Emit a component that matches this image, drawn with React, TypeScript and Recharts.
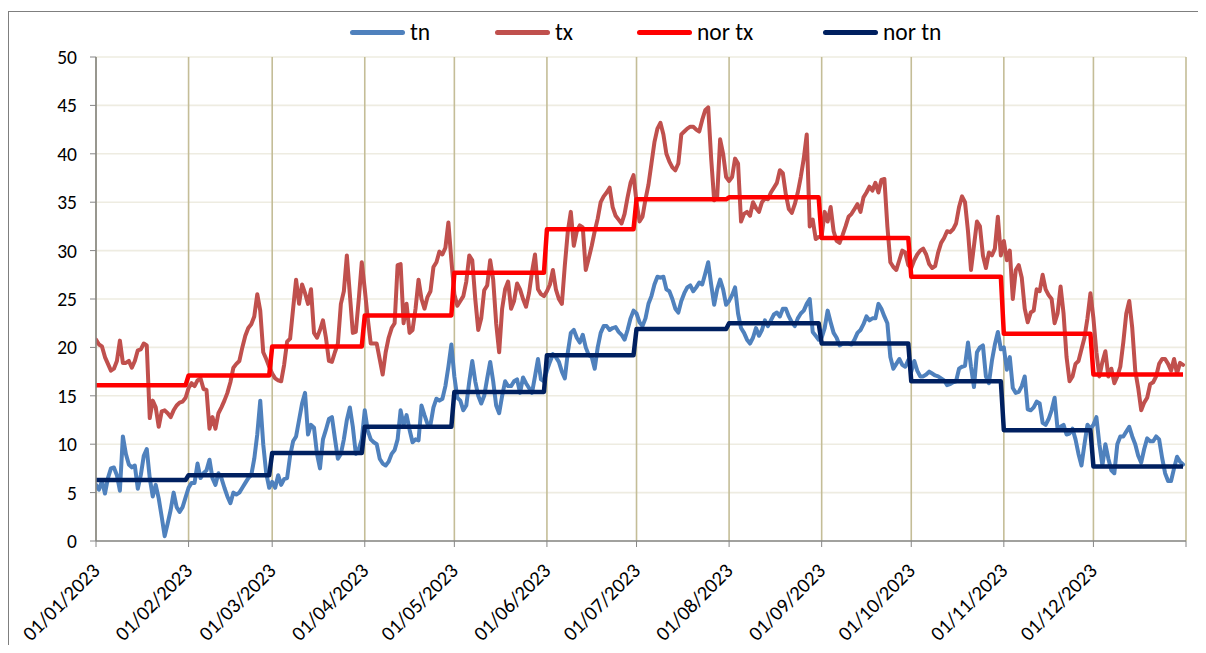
import React from 'react';
import { LineChart, Line, XAxis, YAxis, CartesianGrid, Legend } from 'recharts';

// Month tick labels (first day of each month)
const monthLabels = [
  '01/01/2023', '01/02/2023', '01/03/2023', '01/04/2023', '01/05/2023', '01/06/2023',
  '01/07/2023', '01/08/2023', '01/09/2023', '01/10/2023', '01/11/2023', '01/12/2023',
];

// Monthly normals
const norTxMonthly = [16.1, 17.1, 20.1, 23.3, 27.7, 32.2, 35.3, 35.5, 31.3, 27.3, 21.4, 17.2];
const norTnMonthly = [6.3, 6.8, 9.1, 11.8, 15.4, 19.2, 21.9, 22.5, 20.4, 16.5, 11.45, 7.7];

// Daily maximum temperature (tx), one array per month
const txJan = [20.8, 20.3, 20.1, 19.0, 18.3, 17.6, 17.8, 18.6, 20.7, 18.4, 18.4, 18.6, 17.9, 18.6, 19.7, 19.8, 20.4, 20.2, 12.7, 14.5, 13.8, 11.8, 13.4, 13.5, 13.2, 12.8, 13.5, 14.0, 14.3, 14.4, 14.8];
const txFeb = [15.8, 16.3, 16.0, 16.6, 16.8, 15.7, 15.6, 11.6, 12.8, 11.6, 13.2, 13.8, 14.5, 15.3, 16.4, 17.9, 18.3, 18.6, 20.0, 21.2, 22.0, 22.4, 23.2, 25.5, 23.8, 19.5, 18.8, 18.0];
const txMar = [17.3, 16.8, 16.6, 16.5, 18.2, 20.6, 20.9, 24.0, 27.0, 24.5, 26.5, 25.6, 24.5, 26.0, 21.5, 21.0, 21.8, 22.8, 21.0, 18.6, 18.5, 19.5, 20.4, 24.5, 25.8, 29.5, 25.5, 21.5, 21.6, 25.0, 28.8];
const txApr = [26.0, 23.0, 20.4, 20.4, 20.4, 18.8, 17.2, 19.5, 21.0, 22.0, 22.5, 28.5, 28.6, 22.5, 24.5, 21.5, 21.8, 24.0, 27.0, 25.0, 24.0, 25.2, 25.8, 28.3, 28.8, 29.9, 29.6, 30.3, 32.9, 29.0];
const txMay = [25.5, 24.3, 24.8, 25.3, 26.8, 29.5, 29.0, 25.0, 21.8, 23.0, 25.9, 26.4, 29.0, 27.0, 22.5, 19.5, 24.0, 26.0, 26.8, 24.0, 24.8, 26.6, 26.0, 25.0, 24.2, 25.6, 27.8, 29.6, 26.0, 25.5, 25.3];
const txJun = [25.8, 26.5, 28.0, 26.0, 25.0, 24.5, 28.5, 32.0, 34.0, 30.5, 32.0, 32.6, 32.4, 28.0, 29.2, 30.5, 32.0, 33.3, 35.0, 35.6, 36.0, 36.5, 34.5, 33.6, 33.2, 32.8, 33.8, 35.5, 37.0, 37.8];
const txJul = [35.0, 33.0, 33.5, 35.3, 36.8, 39.0, 41.2, 42.6, 43.2, 42.0, 40.0, 39.2, 38.6, 38.3, 39.0, 42.0, 42.3, 42.6, 42.8, 42.8, 42.5, 42.3, 43.5, 44.5, 44.8, 39.5, 35.2, 35.5, 41.5, 40.0, 37.6];
const txAug = [37.2, 37.6, 39.5, 39.0, 33.0, 33.8, 34.0, 33.6, 35.0, 34.4, 34.0, 35.0, 35.4, 35.3, 36.0, 36.5, 37.0, 38.3, 38.0, 35.8, 34.3, 33.9, 34.8, 36.0, 37.6, 39.5, 42.0, 32.5, 33.2, 31.2, 31.4];
const txSep = [31.5, 34.0, 33.0, 34.5, 32.0, 31.0, 30.8, 31.6, 32.5, 33.5, 33.8, 34.3, 34.8, 34.0, 35.5, 36.0, 36.6, 36.2, 37.0, 36.0, 37.3, 37.4, 32.5, 28.8, 28.3, 28.0, 29.0, 30.0, 29.8, 28.5];
const txOct = [28.2, 29.0, 29.6, 30.0, 30.2, 29.6, 28.6, 28.2, 28.4, 29.8, 30.8, 31.3, 32.0, 31.9, 32.2, 32.8, 34.5, 35.6, 35.0, 32.0, 28.0, 30.5, 33.0, 32.5, 29.5, 28.2, 29.8, 29.5, 30.2, 33.5, 29.5];
const txNov = [31.0, 29.0, 30.0, 25.0, 28.0, 28.5, 27.2, 24.0, 22.6, 23.6, 23.8, 26.0, 25.8, 27.5, 26.0, 25.4, 25.0, 22.5, 23.5, 26.3, 23.5, 19.0, 16.5, 17.0, 18.3, 18.6, 19.8, 21.0, 23.0, 25.6];
const txDec = [23.0, 19.5, 17.0, 18.5, 19.6, 17.0, 17.8, 16.3, 17.0, 18.0, 20.5, 23.5, 24.8, 22.0, 17.6, 15.8, 13.5, 14.3, 14.8, 16.2, 16.4, 17.0, 18.3, 18.8, 18.8, 18.3, 17.6, 18.8, 17.3, 18.4, 18.2];

// Daily minimum temperature (tn), one array per month
const tnJan = [5.8, 5.3, 6.2, 4.9, 6.5, 7.5, 7.6, 6.8, 5.2, 10.8, 9.0, 7.9, 7.6, 7.8, 5.4, 6.8, 8.8, 9.5, 6.5, 4.6, 5.8, 4.4, 2.5, 0.5, 1.8, 3.2, 5.0, 3.5, 3.0, 3.5, 4.5];
const tnFeb = [5.5, 6.0, 6.0, 8.0, 6.5, 7.0, 7.3, 8.4, 6.5, 5.8, 7.0, 6.5, 5.5, 4.6, 3.9, 5.0, 4.8, 5.0, 5.5, 6.0, 6.5, 6.8, 8.5, 11.0, 14.5, 10.0, 7.0, 5.5];
const tnMar = [6.1, 5.5, 6.8, 5.8, 6.4, 6.5, 8.8, 10.3, 10.8, 12.5, 14.2, 15.3, 11.0, 12.0, 11.7, 9.0, 7.5, 10.5, 11.5, 12.6, 12.8, 10.6, 8.5, 9.0, 10.5, 12.5, 13.8, 11.8, 9.0, 9.5, 10.5];
const tnApr = [13.5, 11.4, 10.5, 10.2, 10.0, 8.5, 8.0, 7.8, 8.2, 9.0, 9.4, 10.5, 13.5, 12.0, 13.0, 11.5, 10.2, 10.5, 10.4, 14.0, 13.0, 12.1, 12.0, 13.8, 14.7, 14.5, 14.7, 16.0, 18.0, 20.3];
const tnMay = [17.0, 14.8, 14.5, 13.5, 14.0, 16.5, 18.6, 16.5, 15.0, 14.2, 15.0, 16.8, 18.5, 16.5, 14.0, 13.2, 15.0, 16.5, 16.0, 16.0, 16.5, 16.7, 15.3, 16.9, 16.3, 15.8, 15.3, 17.0, 18.8, 16.7, 16.5];
const tnJun = [17.6, 18.5, 19.3, 19.0, 18.5, 17.5, 16.8, 19.5, 21.5, 21.8, 21.0, 20.5, 21.3, 20.0, 19.2, 19.0, 17.8, 20.0, 21.5, 22.2, 22.2, 21.8, 22.0, 22.1, 21.6, 21.3, 20.8, 21.8, 23.0, 23.8];
const tnJul = [23.5, 22.6, 22.2, 23.0, 24.5, 25.3, 26.5, 27.3, 27.2, 27.3, 26.0, 25.8, 25.0, 24.0, 23.6, 24.8, 25.6, 26.2, 26.4, 25.8, 26.2, 26.7, 26.5, 27.6, 28.8, 26.5, 24.4, 26.0, 27.0, 26.0, 24.4];
const tnAug = [24.8, 25.4, 26.2, 23.5, 22.0, 21.5, 20.8, 20.4, 21.0, 22.0, 21.2, 21.8, 22.8, 22.2, 22.8, 23.4, 23.6, 23.2, 24.0, 24.0, 23.2, 22.6, 22.2, 23.0, 23.5, 23.8, 24.5, 25.0, 21.6, 21.2, 20.8];
const tnSep = [21.0, 22.0, 23.8, 22.6, 21.5, 21.0, 20.2, 20.4, 20.4, 20.4, 20.3, 20.8, 21.5, 21.8, 22.4, 23.2, 22.8, 23.0, 23.0, 24.5, 24.0, 23.2, 22.5, 19.0, 17.8, 18.3, 18.8, 18.2, 18.0, 18.7];
const tnOct = [17.5, 18.6, 17.6, 17.0, 17.0, 17.2, 17.5, 17.3, 17.1, 17.0, 16.8, 16.6, 16.1, 16.2, 16.4, 16.5, 17.8, 18.0, 18.1, 20.5, 18.0, 15.9, 19.5, 20.0, 20.2, 17.0, 16.3, 18.6, 20.3, 21.6, 19.8];
const tnNov = [20.0, 17.7, 19.0, 15.8, 15.3, 15.4, 16.0, 17.0, 13.6, 13.5, 13.8, 14.4, 14.2, 12.2, 12.0, 12.6, 13.5, 14.8, 11.5, 11.8, 12.0, 11.0, 11.1, 11.6, 10.5, 9.0, 7.8, 10.0, 12.0, 11.6];
const tnDec = [12.0, 12.8, 10.0, 7.8, 10.0, 8.5, 7.3, 7.0, 10.0, 10.8, 10.8, 11.3, 11.8, 10.8, 10.0, 8.8, 8.1, 9.5, 10.6, 10.3, 10.3, 10.8, 10.5, 8.6, 7.0, 6.2, 6.2, 7.5, 8.7, 8.2, 7.9];

const txByMonth = [txJan, txFeb, txMar, txApr, txMay, txJun, txJul, txAug, txSep, txOct, txNov, txDec];
const tnByMonth = [tnJan, tnFeb, tnMar, tnApr, tnMay, tnJun, tnJul, tnAug, tnSep, tnOct, tnNov, tnDec];

const yTicks = [0, 5, 10, 15, 20, 25, 30, 35, 40, 45, 50];

// Build the daily table and month-start tick positions
const data: { d: number; tn: number; tx: number; norTx: number; norTn: number }[] = [];
const monthStarts: number[] = [];
let dayIdx = 0;
for (let m = 0; m < 12; m++) {
  monthStarts.push(dayIdx);
  const txs = txByMonth[m];
  const tns = tnByMonth[m];
  for (let i = 0; i < txs.length; i++) {
    data.push({ d: dayIdx, tn: tns[i], tx: txs[i], norTx: norTxMonthly[m], norTn: norTnMonthly[m] });
    dayIdx++;
  }
}
const yearEnd = dayIdx;
const xTicks = [...monthStarts, yearEnd];

const FONT = "Carlito, 'Liberation Sans', Arial, sans-serif";
const AXIS = '#868686';

const legendItems = [
  { name: 'tn', color: '#4F81BD', w: 145 },
  { name: 'tx', color: '#C0504D', w: 142 },
  { name: 'nor tx', color: '#FF0000', w: 186 },
  { name: 'nor tn', color: '#002060', w: 130 },
];

const XTick = (props: any) => {
  const { x, y, payload } = props;
  const idx = monthStarts.indexOf(payload.value);
  if (idx < 0) return null;
  const px = x + 5;
  const py = y + 23;
  return (
    <text
      x={px}
      y={py}
      transform={`rotate(-45 ${px} ${py})`}
      textAnchor="end"
      fontSize={20.5}
      fontFamily={FONT}
      fill="#000"
    >
      {monthLabels[idx]}
    </text>
  );
};

const LegendContent = () => (
  <div style={{ display: 'flex', alignItems: 'center', paddingLeft: 342, height: 24, fontFamily: FONT }}>
    {legendItems.map((it) => (
      <div key={it.name} style={{ width: it.w, display: 'flex', alignItems: 'center' }}>
        <div style={{ width: 55, height: 5, borderRadius: 3, background: it.color, marginRight: 5 }} />
        <span style={{ fontSize: 23.5, color: '#000', lineHeight: '24px' }}>{it.name}</span>
      </div>
    ))}
  </div>
);

export default function App() {
  return (
    <div style={{ position: 'relative', width: 1190, height: 637 }}>
      <style>{`body{overflow:hidden}`}</style>
      <div
        style={{
          position: 'absolute',
          left: 0,
          top: 3,
          width: 1198,
          height: 634,
          borderTop: '1px solid #7f7f7f',
          borderLeft: '1px solid #7f7f7f',
          boxSizing: 'border-box',
        }}
      />
      <div style={{ position: 'absolute', left: 0, top: 0 }}>
        <LineChart
          width={1190}
          height={637}
          data={data}
          margin={{ top: 49, right: 12, bottom: 0, left: 0 }}
        >
          <CartesianGrid vertical={false} stroke="#EEECE1" strokeWidth={1.6} />
          <CartesianGrid horizontal={false} stroke="#C4BD97" strokeWidth={1.6} />
          <XAxis
            dataKey="d"
            type="number"
            domain={[0, yearEnd]}
            ticks={xTicks}
            interval={0}
            height={104}
            stroke={AXIS}
            tickLine={{ stroke: AXIS }}
            axisLine={{ stroke: AXIS, strokeWidth: 1.5 }}
            tickSize={6}
            tick={<XTick />}
            allowDataOverflow
          />
          <YAxis
            type="number"
            domain={[0, 50]}
            ticks={yTicks}
            interval={0}
            width={88}
            stroke={AXIS}
            tickLine={{ stroke: AXIS }}
            axisLine={{ stroke: AXIS, strokeWidth: 1.5 }}
            tickSize={6}
            tickMargin={13}
            tick={{ fontSize: 19.5, fontFamily: FONT, fill: '#000' }}
          />
          <Legend
            layout="horizontal"
            verticalAlign="middle"
            align="center"
            wrapperStyle={{ top: 12, left: 0, width: 1190, height: 24 }}
            content={<LegendContent />}
          />
          <Line type="linear" dataKey="tn" stroke="#4F81BD" strokeWidth={4} dot={false} activeDot={false} isAnimationActive={false} strokeLinejoin="round" strokeLinecap="round" />
          <Line type="linear" dataKey="tx" stroke="#C0504D" strokeWidth={4} dot={false} activeDot={false} isAnimationActive={false} strokeLinejoin="round" strokeLinecap="round" />
          <Line type="linear" dataKey="norTx" stroke="#FF0000" strokeWidth={4.5} dot={false} activeDot={false} isAnimationActive={false} strokeLinejoin="round" />
          <Line type="linear" dataKey="norTn" stroke="#002060" strokeWidth={4.5} dot={false} activeDot={false} isAnimationActive={false} strokeLinejoin="round" />
        </LineChart>
      </div>
    </div>
  );
}
